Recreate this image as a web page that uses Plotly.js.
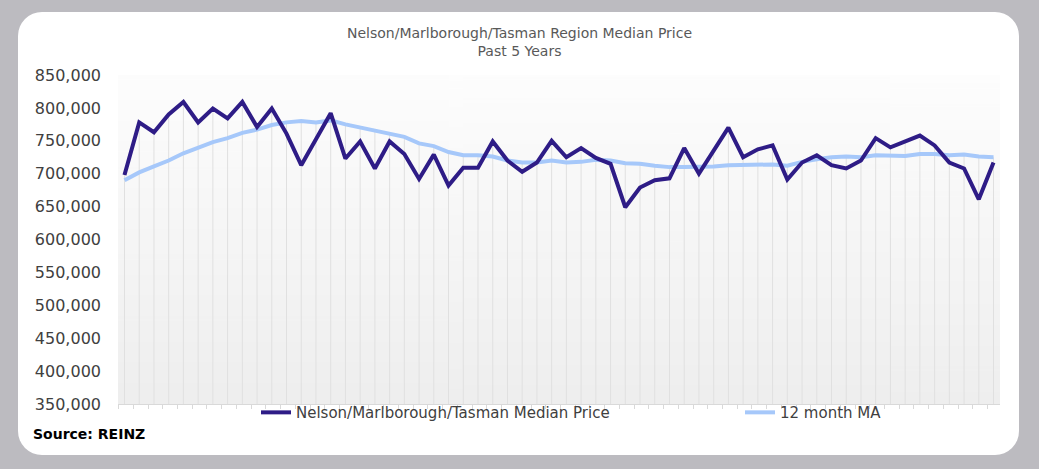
<!DOCTYPE html>
<html>
<head>
<meta charset="utf-8">
<script src="https://cdn.plot.ly/plotly-3.0.1.min.js"></script>
<style>
    html, body { margin: 0; padding: 0; width: 1039px; height: 469px; overflow: hidden; background: #bcbbc0; }
    #card { position: absolute; left: 18px; top: 12px; width: 1001px; height: 443px; background: #ffffff; border-radius: 24px; }
    #plotContainer { position: absolute; left: 0; top: 0; width: 1039px; height: 469px; }
</style>
</head>
<body>
<div id="card"></div>
<div id="plotContainer"></div>
<script>

// Monthly median price, last 60 months
const medianPrice = [
    698000, 778000, 763000, 790000, 809000, 778000, 799000, 784000, 809000, 771000,
    799000, 761000, 713000, 752000, 792000, 723000, 749000, 708000, 749000, 730000,
    692000, 729000, 682000, 709000, 709000, 749000, 720000, 703000, 717000, 750000,
    725000, 739000, 724000, 715000, 649000, 679000, 690000, 693000, 739000, 700000,
    735000, 770000, 725000, 737000, 743000, 691000, 717000, 728000, 713000, 708000,
    720000, 754000, 740000, 749000, 758000, 743000, 717000, 708000, 661000, 717000
];

// 12 month moving average
const movingAverage = [
    690000, 702000, 711000, 720000, 731000, 739000, 748000, 754000, 762000, 767000,
    774000, 778000, 780000, 778000, 781000, 775000, 770000, 765000, 761000, 756000,
    746000, 742000, 733000, 728000, 728000, 726000, 720000, 717000, 717000, 720000,
    717000, 718000, 721000, 720000, 716000, 715000, 712000, 710000, 710000, 710000,
    711000, 713000, 713000, 713000, 714000, 712000, 718000, 722000, 725000, 726000,
    725000, 728000, 728000, 727000, 730000, 730000, 728000, 729000, 726000, 725000
];

const seriesNames = [ 'Nelson/Marlborough/Tasman Median Price', '12 month MA' ];
const axisMin = 350000;
const axisMax = 850000;

/**
 * Builds a vertical gradient as a data url, used as the plot area background
 */
function gradientImage( ) {
    let canvas = document.createElement( 'canvas' );
    canvas.width = 4;
    canvas.height = 256;
    let ctx = canvas.getContext( '2d' );
    let grad = ctx.createLinearGradient( 0, 0, 0, 256 );
    grad.addColorStop( 0, '#fdfdfd' );
    grad.addColorStop( 1, '#eeeeee' );
    ctx.fillStyle = grad;
    ctx.fillRect( 0, 0, 4, 256 );
    return canvas.toDataURL( );
}

/**
 * Drop lines from the higher of the two series down to the axis
 */
function dropLineTrace( months ) {
    let xs = [];
    let ys = [];
    for ( let i = 0; i < months.length; ++i ) {
        xs.push( months[ i ], months[ i ], null );
        ys.push( Math.max( medianPrice[ i ], movingAverage[ i ] ), axisMin, null );
    }
    return {
        x: xs, y: ys, mode: 'lines', type: 'scatter',
        line: { color: '#e0e0e0', width: 1 },
        hoverinfo: 'skip', showlegend: false
    };
}

function legendBox( leftPx ) {
    return {
        orientation: 'h',
        x: ( leftPx - 118 ) / 882, xanchor: 'left',
        y: 0.024, yanchor: 'top',
        font: { size: 15, color: '#404040' },
        bgcolor: 'rgba(0,0,0,0)'
    };
}

function drawChart( ) {

    let months = medianPrice.map( ( v, i ) => i );

    let trace1 = {
        x: months, y: medianPrice, name: seriesNames[ 0 ],
        type: 'scatter', mode: 'lines', legend: 'legend',
        line: { color: '#2e1c86', width: 4 }
    };

    let trace2 = {
        x: months, y: movingAverage, name: seriesNames[ 1 ],
        type: 'scatter', mode: 'lines', legend: 'legend2',
        line: { color: '#a6c8fa', width: 4 }
    };

    let data = [ dropLineTrace( months ), trace2, trace1 ];

    let layout = {
        width: 1039, height: 469,
        paper_bgcolor: 'rgba(0,0,0,0)',
        plot_bgcolor: 'rgba(0,0,0,0)',
        margin: { l: 118, r: 39, t: 75, b: 65 },
        font: { family: 'DejaVu Sans', color: '#404040' },
        title: {
            text: 'Nelson/Marlborough/Tasman Region Median Price<br>Past 5 Years',
            font: { size: 14, color: '#595959' },
            x: 0.5, xanchor: 'center',
            yref: 'container', y: 1 - 38 / 469, yanchor: 'middle'
        },
        xaxis: {
            range: [ -0.44, months.length - 1 + 0.44 ],
            showgrid: false, zeroline: false,
            showline: true, linecolor: '#d9d9d9', linewidth: 1,
            ticks: 'outside', ticklen: 4, tickcolor: '#d9d9d9',
            tick0: -0.4, dtick: 1,
            showticklabels: false
        },
        yaxis: {
            range: [ axisMin, axisMax ],
            dtick: 50000, tickformat: ',',
            showgrid: false, zeroline: false, showline: false,
            ticklabelstandoff: 16,
            tickfont: { size: 16, color: '#404040' }
        },
        legend: legendBox( 256 ),
        legend2: legendBox( 740 ),
        images: [ {
            source: gradientImage( ),
            xref: 'paper', yref: 'paper',
            x: 0, y: 1, sizex: 1, sizey: 1,
            sizing: 'stretch', layer: 'below'
        } ],
        annotations: [ {
            text: '<b>Source: REINZ</b>',
            xref: 'paper', yref: 'paper',
            x: ( 31 - 118 ) / 882, xanchor: 'left',
            y: -( 434 - 404 ) / 329, yanchor: 'middle',
            showarrow: false,
            font: { size: 14, color: '#000000' }
        } ]
    };

    Plotly.newPlot( 'plotContainer', data, layout, { displayModeBar: false, staticPlot: true } );
}

drawChart( );
</script>
</body>
</html>
